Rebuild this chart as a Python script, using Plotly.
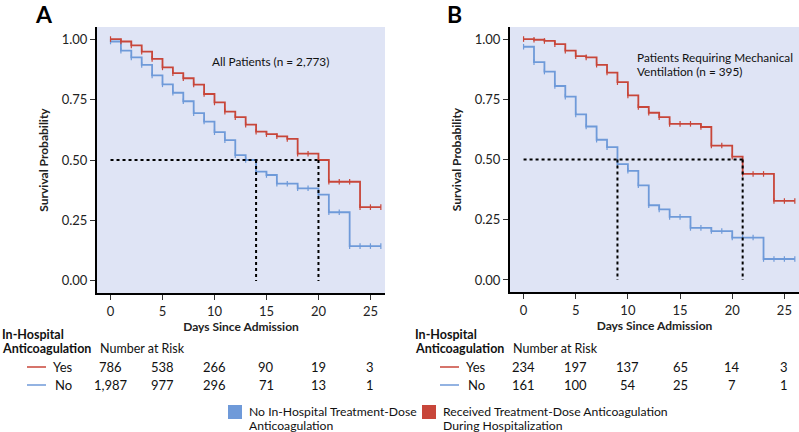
import plotly.graph_objects as go

# ---- data ----
days = list(range(0, 27))
risk_days = [0, 5, 10, 15, 20, 25]

# Panel A: all patients
a_yes = [1.00, 0.990, 0.974, 0.948, 0.918, 0.883, 0.859, 0.838, 0.812, 0.773, 0.738, 0.700, 0.677,
         0.646, 0.617, 0.607, 0.598, 0.587, 0.526, 0.526, 0.500, 0.410, 0.410, 0.410, 0.305, 0.305, 0.305]
a_no = [0.990, 0.952, 0.924, 0.893, 0.850, 0.813, 0.778, 0.743, 0.694, 0.659, 0.615, 0.582, 0.520,
        0.500, 0.452, 0.438, 0.402, 0.402, 0.383, 0.383, 0.357, 0.284, 0.284, 0.144, 0.144, 0.144, 0.144]
a_median = [14, 20]
a_risk_yes = ['786', '538', '266', '90', '19', '3']
a_risk_no = ['1,987', '977', '296', '71', '13', '1']

# Panel B: mechanical ventilation
b_yes = [1.00, 0.997, 0.992, 0.979, 0.952, 0.929, 0.924, 0.893, 0.861, 0.821, 0.766, 0.718, 0.694,
         0.676, 0.648, 0.648, 0.648, 0.635, 0.558, 0.558, 0.512, 0.440, 0.440, 0.440, 0.328, 0.328, 0.328]
b_no = [0.968, 0.904, 0.865, 0.805, 0.761, 0.687, 0.637, 0.582, 0.551, 0.481, 0.453, 0.393, 0.310,
        0.293, 0.262, 0.262, 0.216, 0.216, 0.203, 0.203, 0.176, 0.176, 0.176, 0.087, 0.087, 0.087, 0.087]
b_median = [9, 21]
b_risk_yes = ['234', '197', '137', '65', '14', '3']
b_risk_no = ['161', '100', '54', '25', '7', '1']

RED = '#c8463a'
BLUE = '#6f9ad9'
BG = '#dfe4f5'
FONT = 'Lato'
W, H = 799, 432

fig = go.Figure()

panels = [('x', 'y', a_yes, a_no, a_median), ('x2', 'y2', b_yes, b_no, b_median)]
for xa, ya, yes, no, med in panels:
    for vals, col in [(no, BLUE), (yes, RED)]:
        fig.add_trace(go.Scatter(x=days, y=vals, xaxis=xa, yaxis=ya, mode='lines+markers',
                                 line=dict(color=col, width=1.8, shape='hv'),
                                 marker=dict(symbol='line-ns', size=4, line=dict(color=col, width=1.2)),
                                 showlegend=False, hoverinfo='skip'))
    # median guide lines
    fig.add_trace(go.Scatter(x=[0, med[1]], y=[0.5, 0.5], xaxis=xa, yaxis=ya, mode='lines',
                             line=dict(color='black', width=2, dash='dot'), showlegend=False))
    for m in med:
        fig.add_trace(go.Scatter(x=[m, m], y=[0.5, 0], xaxis=xa, yaxis=ya, mode='lines',
                                 line=dict(color='black', width=2, dash='dot'), showlegend=False))

ax_common = dict(showline=True, linecolor='black', linewidth=2, ticks='outside', ticklen=5,
                 tickwidth=1.2, tickcolor='#333', showgrid=False, zeroline=False,
                 tickfont=dict(family=FONT, size=13, color='#222'))
xcommon = dict(ax_common, range=[-1.3, 26.4], tickvals=[0, 5, 10, 15, 20, 25],
               title=dict(text='<b>Days Since Admission</b>', font=dict(family=FONT, size=12, color='#222'),
                          standoff=4))
ycommon = dict(ax_common, range=[-0.05, 1.05], tickvals=[0, 0.25, 0.5, 0.75, 1.0], tickformat='.2f',
               title=dict(text='<b>Survival Probability</b>', font=dict(family=FONT, size=12, color='#222'),
                          standoff=10))

fig.update_layout(
    width=W, height=H,
    margin=dict(l=0, r=0, t=0, b=0),
    paper_bgcolor='white', plot_bgcolor=BG,
    font=dict(family=FONT, color='#222'),
    xaxis=dict(xcommon, domain=[97 / W, 385 / W], anchor='y'),
    yaxis=dict(ycommon, domain=[1 - 293 / H, 1 - 27 / H], anchor='x'),
    xaxis2=dict(xcommon, domain=[510 / W, 1.0], anchor='y2'),
    yaxis2=dict(ycommon, domain=[1 - 292 / H, 1 - 27 / H], anchor='x2'),
)

ann = []
shapes = []


def txt(text, x, y, size=12.5, xanchor='left', xref='paper', yref='paper', color='#111'):
    ann.append(dict(text=text, x=x, y=y, xref=xref, yref=yref, xanchor=xanchor, yanchor='middle',
                    showarrow=False, font=dict(family=FONT, size=size, color=color)))


# panel letters and inset titles
for letter, lx in [('A', 33), ('B', 445)]:
    txt('<b>' + letter + '</b>', lx / W, 1 - 14 / H, size=23, color='black')
txt('All Patients (n = 2,773)', 9.55, 0.907, size=11.8, xref='x', yref='y')
txt('Patients Requiring Mechanical', 10.7, 0.923, size=11.8, xref='x2', yref='y2')
txt('Ventilation (n = 395)', 10.7, 0.864, size=11.8, xref='x2', yref='y2')

# number at risk tables
tables = [('x', 0, a_risk_yes, a_risk_no), ('x2', 413, b_risk_yes, b_risk_no)]
for xr, x0, ry, rn in tables:
    txt('<b>In-Hospital</b>', x0 / W, 1 - 334 / H)
    txt('<b>Anticoagulation</b>', x0 / W, 1 - 348 / H)
    txt('Number at Risk', (x0 + 98) / W, 1 - 348 / H)
    for lab, vals, col, yy in [('Yes', ry, RED, 367), ('No', rn, BLUE, 385)]:
        shapes.append(dict(type='line', xref='paper', yref='paper', x0=(x0 + 27) / W, x1=(x0 + 46) / W,
                           y0=1 - yy / H, y1=1 - yy / H, line=dict(color=col, width=1.5)))
        txt(lab, (x0 + 63) / W, 1 - yy / H, size=13, xanchor='center')
        for d, v in zip(risk_days, vals):
            txt(v, d, 1 - yy / H, size=13, xanchor='center', xref=xr)

# bottom legend
legend_items = [(228, BLUE, 'No In-Hospital Treatment-Dose', 'Anticoagulation'),
                (422, RED, 'Received Treatment-Dose Anticoagulation', 'During Hospitalization')]
for lx, col, line1, line2 in legend_items:
    shapes.append(dict(type='rect', xref='paper', yref='paper', x0=lx / W, x1=(lx + 14) / W,
                       y0=1 - 419 / H, y1=1 - 405 / H, fillcolor=col, line=dict(width=0)))
    txt(line1, (lx + 19) / W, 1 - 411 / H, size=12.2)
    txt(line2, (lx + 19) / W, 1 - 425 / H, size=12.2)

fig.update_layout(annotations=ann, shapes=shapes)
# drop the browser's default body margin so the figure sits at the page origin
fig.write_html('out.html', config={'displayModeBar': False},
               post_script="document.body.style.margin='0';")
